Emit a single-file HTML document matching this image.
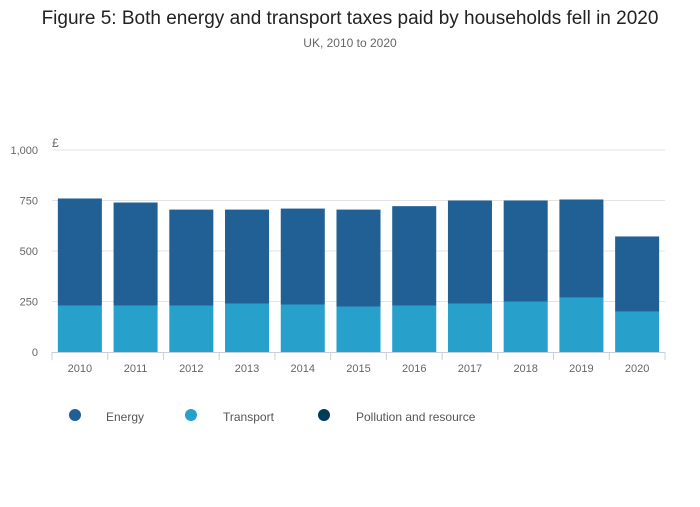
<!DOCTYPE html>
<html><head><meta charset="utf-8"><style>
body{margin:0;background:#fff;font-family:"Liberation Sans",sans-serif;}
svg text{font-family:"Liberation Sans",sans-serif;}
</style></head><body>
<svg width="700" height="502">
<text x="350" y="24" text-anchor="middle" font-size="19" fill="#222">Figure 5: Both energy and transport taxes paid by households fell in 2020</text>
<text x="350" y="47" text-anchor="middle" font-size="12" fill="#666">UK, 2010 to 2020</text>
<text x="52" y="147" font-size="12" fill="#666">£</text>
<g id="grid"></g><g id="bars"></g><g id="xaxis"></g>
<g>
<circle cx="75" cy="415" r="6" fill="#206095"/>
<text x="106" y="421" font-size="12" fill="#555">Energy</text>
<circle cx="191" cy="415" r="6" fill="#27a0cc"/>
<text x="223" y="421" font-size="12" fill="#555">Transport</text>
<circle cx="324" cy="415" r="6" fill="#003c57"/>
<text x="356" y="421" font-size="12" fill="#555">Pollution and resource</text>
</g>
</svg>
<script>
const categories=["2010","2011","2012","2013","2014","2015","2016","2017","2018","2019","2020"];
const transport=[230,230,230,240,235,225,230,240,250,270,200];
const energy=[530,510,475,465,475,480,492,510,500,485,372];
const pollution=[0,0,0,0,0,0,0,0,0,0,0];
const yTicks=[0,250,500,750,1000];
const yTickLabels=["0","250","500","750","1,000"];
const NS="http://www.w3.org/2000/svg";
const x0=52,x1=665,y0=352,yTop=150,yMax=1000;
const band=(x1-x0)/categories.length;
function y(v){return y0-(v/yMax)*(y0-yTop);}
function bx(i){return x0+i*band;}
function mk(t,a,p){const e=document.createElementNS(NS,t);for(const k in a)e.setAttribute(k,a[k]);p.appendChild(e);return e;}
const g=document.getElementById('grid');
yTicks.forEach((v,i)=>{
 if(v>0){const l=mk('line',{x1:x0,x2:x1,y1:y(v),y2:y(v),stroke:'#e3e3e3','stroke-width':1},g);
 
 }
 const t=mk('text',{x:38,y:y(v)+4,'text-anchor':'end','font-size':11,fill:'#666'},g);
 t.textContent=yTickLabels[i];
 
 
});
const b=document.getElementById('bars');
const bw=band*0.79,off=(band-bw)/2;
categories.forEach((c,i)=>{
 let base=0;
 [[transport,'#27a0cc','transport'],[energy,'#206095','energy'],[pollution,'#003c57','pollution']].forEach(([arr,col,nm])=>{
  const v=arr[i];if(v<=0){return;}
  const r=mk('rect',{x:bx(i)+off,y:y(base+v),width:bw,height:y(base)-y(base+v),fill:col},b);
  
  
  base+=v;
 });
});
const xa=document.getElementById('xaxis');
const ax=mk('line',{x1:x0,x2:x1,y1:y0+0.5,y2:y0+0.5,stroke:'#c5cfe0'},xa);


for(let i=0;i<=categories.length;i++){
 const tk=mk('line',{x1:bx(i),x2:bx(i),y1:y0,y2:y0+8,stroke:'#c5cfe0'},xa);
 
 
}
categories.forEach((c,i)=>{
 const t=mk('text',{x:bx(i)+band/2,y:372,'text-anchor':'middle','font-size':11,fill:'#666'},xa);
 t.textContent=c;
 
 
});
</script>
</body></html>
